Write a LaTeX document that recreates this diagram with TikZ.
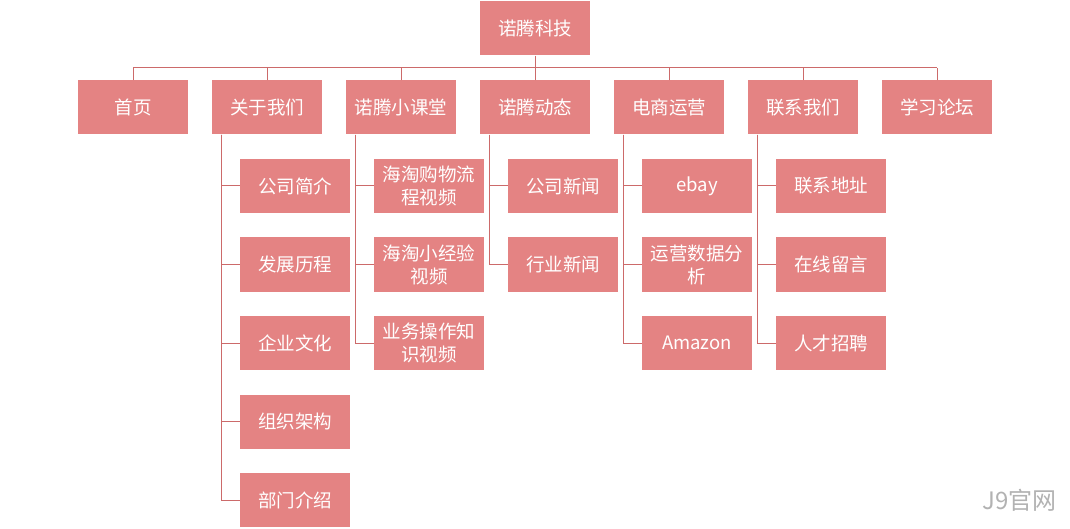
\documentclass[tikz,border=0pt]{standalone}
\usepackage{fontspec}
\setmainfont{Noto Sans CJK SC}
\definecolor{boxpink}{HTML}{E48383}
\definecolor{linepink}{HTML}{CC6A6A}
\tikzset{
  box/.style={fill=boxpink,text=white,minimum width=110pt,minimum height=54pt,inner sep=2pt,
    align=center,font=\fontsize{18.5}{22}\selectfont},
  link/.style={draw=linepink,line width=1pt},
}
\begin{document}
\begin{tikzpicture}[x=1pt,y=-1pt]

\useasboundingbox (0,0) rectangle (1070,529);

\node[box] (root) at (535,28.5) {诺腾科技};
\coordinate (bus) at (535,68);
\draw[link] (root.south) -- (bus);
\draw[link] (133,68) -- (937,68);

\foreach \n/\t [count=\i from 0] in {home/首页,about/关于我们,class/诺腾小课堂,news/诺腾动态,shop/电商运营,contact/联系我们,forum/学习论坛}{
  \node[box] (\n) at (133+134*\i,107.5) {\t};
  \draw[link] (\n.north) -- (\n.north |- bus);
}

%% children
\foreach \p/\list in {about/{公司简介,发展历程,企业文化,组织架构,部门介绍},
  class/{{海淘购物流\\程视频},{海淘小经验\\视频},{业务操作知\\识视频}},
  news/{公司新闻,行业新闻},
  shop/{ebay,{运营数据分\\析},Amazon},
  contact/{联系地址,在线留言,人才招聘}}{
  \foreach \t [count=\j from 0] in \list {
    \node[box,anchor=west,font=\fontsize{18.5}{23}\selectfont] (\p-\j) at ([xshift=28pt]\p.west |- 0,186+78.5*\j) {\t};
    \draw[link] ([xshift=10pt]\p.south west) |- (\p-\j.west);
  }
}

\node[text=gray!60,font=\fontsize{24}{26}\selectfont,anchor=east] (mark) at (1060,500) {J9官网};

\end{tikzpicture}
\end{document}
